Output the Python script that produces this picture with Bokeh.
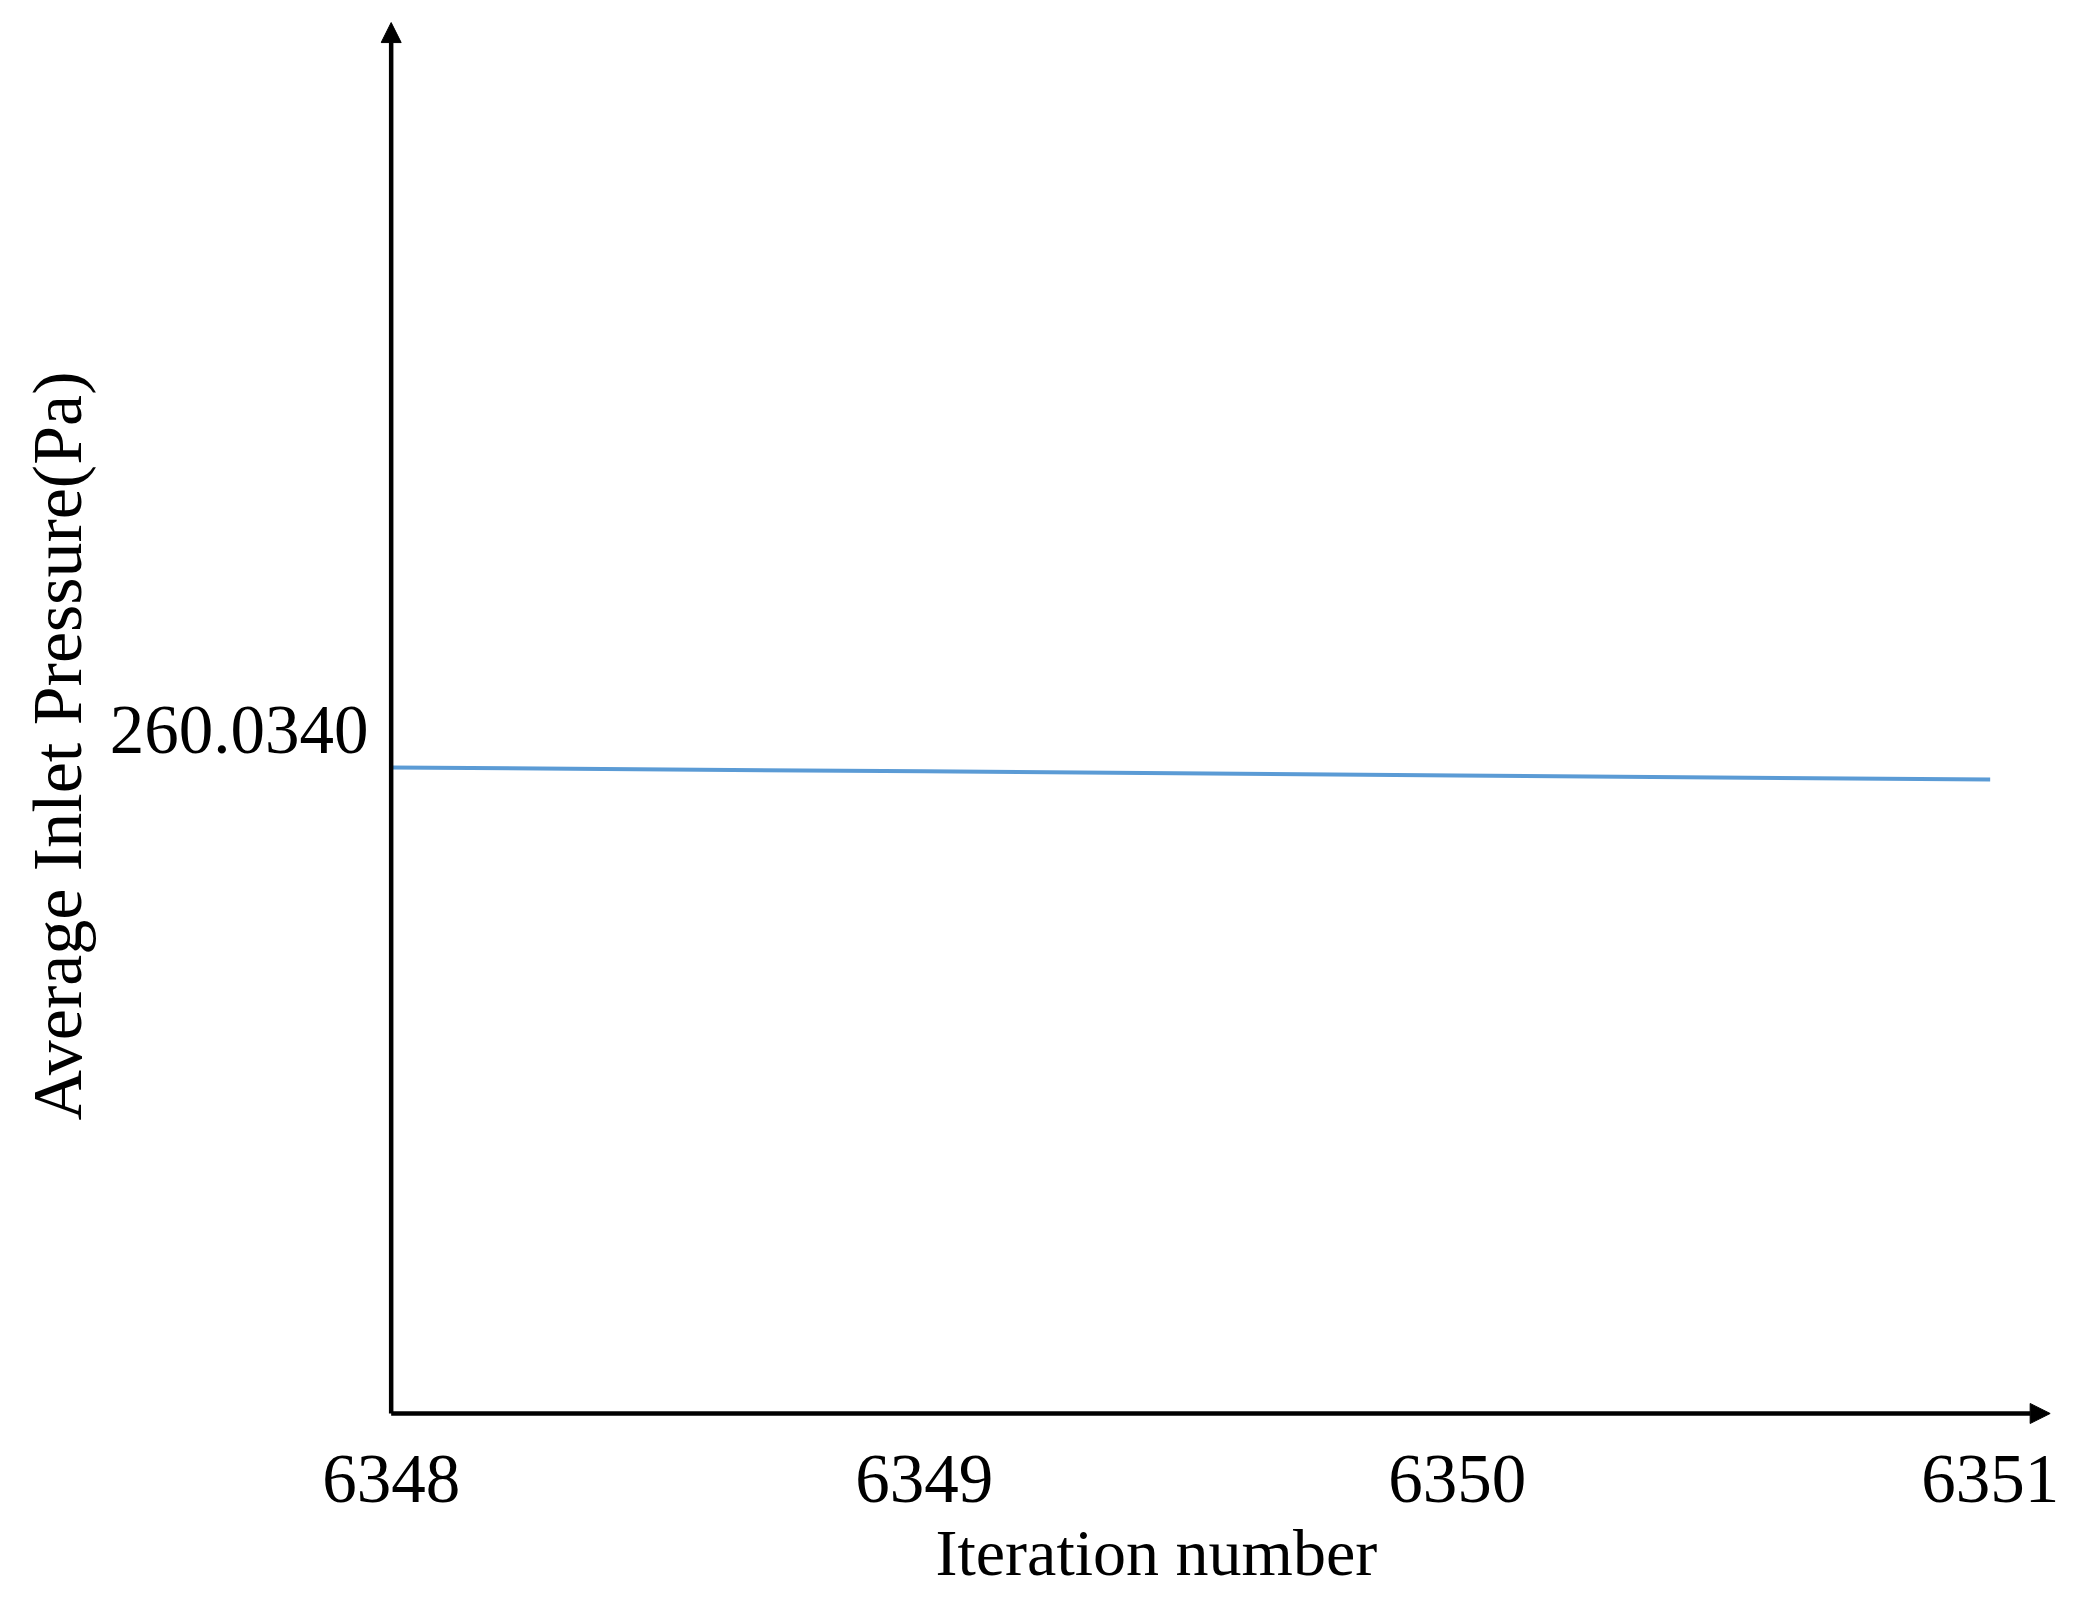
from bokeh.plotting import figure
from bokeh.models import Range1d, FixedTicker, PrintfTickFormatter, Arrow, NormalHead, Title
from bokeh.embed import file_html
from bokeh.resources import INLINE

# Data
iterations = [6348, 6349, 6350, 6351]
pressure = [260.033727, 260.033700, 260.033670, 260.033641]
x_ticks = [6348, 6349, 6350, 6351]
y_ticks = [260.0340]

# axis extents
X_START, X_END = 6347.97998, 6351.15071
Y_START, Y_END = 260.028971, 260.039137
X_AXIS_AT = 6348.0          # where the vertical axis is drawn
Y_AXIS_AT = 260.029086      # where the horizontal axis is drawn
X_TIP = 6351.11257          # tip of the horizontal axis arrow
Y_TIP = 260.039079          # tip of the vertical axis arrow

FONT = "Liberation Serif"

p = figure(width=2078, height=1597, output_backend="svg", toolbar_location=None,
           x_range=Range1d(X_START, X_END), y_range=Range1d(Y_START, Y_END),
           min_border_left=380, min_border_right=8, min_border_top=14, min_border_bottom=168)

p.line(iterations, pressure, line_color="#5B9BD5", line_width=4)

p.xgrid.visible = False
p.ygrid.visible = False
p.outline_line_color = None
p.background_fill_color = "white"
p.border_fill_color = "white"

for ax in (p.xaxis[0], p.yaxis[0]):
    ax.axis_line_color = None
    ax.major_tick_line_color = None
    ax.minor_tick_line_color = None
    ax.major_tick_out = 0
    ax.major_tick_in = 0
    ax.major_label_text_font = FONT
    ax.major_label_text_font_size = "69px"
    ax.major_label_text_color = "black"

p.xaxis[0].ticker = FixedTicker(ticks=x_ticks)
p.xaxis[0].major_label_standoff = 26

p.yaxis[0].ticker = FixedTicker(ticks=y_ticks)
p.yaxis[0].formatter = PrintfTickFormatter(format="%.4f")
p.yaxis[0].major_label_standoff = 12

p.add_layout(Title(text="Iteration number", align="left", offset=555, standoff=18,
                   text_font=FONT, text_font_size="66px", text_font_style="normal",
                   text_color="black"), "below")
p.add_layout(Title(text="Average Inlet Pressure(Pa)", align="left", offset=309, standoff=22,
                   text_font=FONT, text_font_size="70px", text_font_style="normal",
                   text_color="black"), "left")

# axis lines with arrow heads
p.add_layout(Arrow(end=NormalHead(size=20, fill_color="black", line_color="black", line_width=1),
                   x_start=X_AXIS_AT, y_start=Y_AXIS_AT, x_end=X_AXIS_AT, y_end=Y_TIP,
                   line_color="black", line_width=4.5))
p.add_layout(Arrow(end=NormalHead(size=20, fill_color="black", line_color="black", line_width=1),
                   x_start=X_AXIS_AT, y_start=Y_AXIS_AT, x_end=X_TIP, y_end=Y_AXIS_AT,
                   line_color="black", line_width=4.5))

open("out.html", "w").write(file_html(p, INLINE))
